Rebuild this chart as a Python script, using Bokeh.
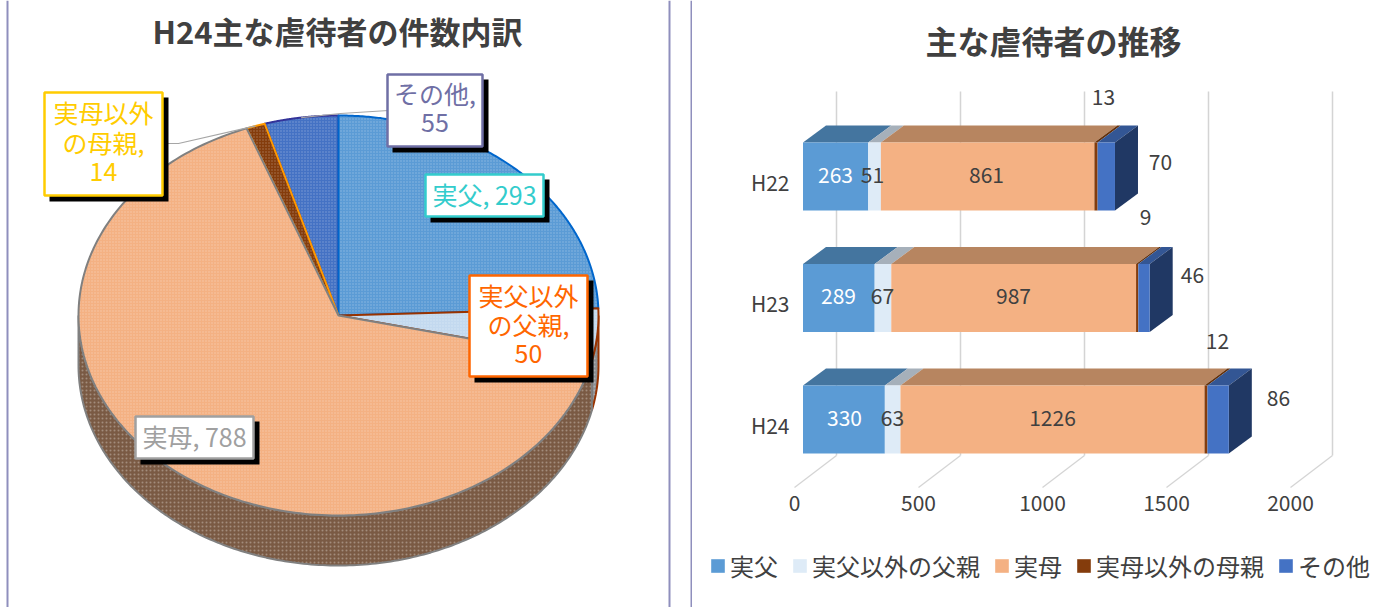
import numpy as np
from bokeh.plotting import figure
from bokeh.layouts import row
from bokeh.models import Range1d, FixedTicker, Legend, LegendItem
from bokeh.core.properties import value
from bokeh.embed import file_html
from bokeh.resources import INLINE

# ---- data ----
pie_names = ["実父", "実父以外の父親", "実母", "実母以外の母親", "その他"]
pie_values = [293, 50, 788, 14, 55]
pie_title = "H24主な虐待者の件数内訳"

years = ["H22", "H23", "H24"]
series_names = ["実父", "実父以外の父親", "実母", "実母以外の母親", "その他"]
jippu = [263, 289, 330]
jippu_other = [51, 67, 63]
jitsubo = [861, 987, 1226]
jitsubo_other = [13, 9, 12]
others = [70, 46, 86]
bar_title = "主な虐待者の推移"
x_ticks = [0, 500, 1000, 1500, 2000]

# ---- styles ----
FONT = "Noto Sans CJK JP"
TXT = "#404040"
PANEL = "#8f8fbd"
TEXT_DY = -2  # the font sits lower than the reference's

pie_fill = ["#5b9bd5", "#c3d9ef", "#f4b183", "#843c0c", "#4472c4"]
pie_line = ["#0066cc", "#993300", "#808080", "#ff9900", "#333399"]
wall_fill = {1: "#8b8f92", 2: "#7a5a44"}
draw_order = [4, 0, 3, 1, 2]

# ---- left figure: pie ----
L0, R0, T0, B0 = 0, 692, 0, 607
CX, CY, RX, RY, DEPTH = 338, 315, 260, 200, 50


def px(x):
    return (x - CX) / RX


def py(y):
    return (CY - y) / RY


left = figure(width=R0 - L0, height=B0 - T0, output_backend="svg", toolbar_location=None,
              x_range=Range1d(px(L0), px(R0)), y_range=Range1d(py(B0), py(T0)),
              min_border=0, outline_line_color=None)
left.axis.visible = False
left.grid.visible = False

for xp in (7, 669, 691):
    left.line([px(xp), px(xp)], [py(T0), py(B0)], line_color=PANEL, line_width=2)

totals = np.cumsum([0] + pie_values) / sum(pie_values) * 2 * np.pi
d = DEPTH / RY

# side walls
for i in [1, 2]:
    a = max(totals[i], np.pi / 2)
    b = min(totals[i + 1], 3 * np.pi / 2)
    t = np.linspace(a, b, 200)
    xs = np.concatenate([np.sin(t), np.sin(t[::-1])])
    ys = np.concatenate([np.cos(t), np.cos(t[::-1]) - d])
    left.patch(xs, ys, fill_color=wall_fill[i], line_color=pie_line[i], line_width=2,
               hatch_pattern="dot", hatch_color="white", hatch_alpha=0.3, hatch_scale=4, hatch_weight=1)

# top faces
for i in draw_order:
    t = np.linspace(totals[i], totals[i + 1], 200)
    xs = np.concatenate([[0], np.sin(t)])
    ys = np.concatenate([[0], np.cos(t)])
    left.patch(xs, ys, fill_color=pie_fill[i], line_color=pie_line[i], line_width=2,
               line_join="round",
               hatch_pattern="dot", hatch_color="white", hatch_alpha=0.3, hatch_scale=3, hatch_weight=1)


def mid(i):
    m = (totals[i] + totals[i + 1]) / 2
    return np.sin(m), np.cos(m)


# leader lines
mx, my = mid(3)
left.line([mx, px(178), px(165)], [my, py(143), py(143)], line_color="#a6a6a6", line_width=1.2)
mx, my = mid(4)
left.line([mx, px(340), px(388)], [my, py(113), py(110)], line_color="#a6a6a6", line_width=1.2)

# data label boxes: outer box, colour, text lines (text, y)
boxes = [
    (44, 162, 92, 195, "#ffcc00", [("実母以外", 113), ("の母親,", 143), (f"{pie_values[3]}", 173)]),
    (387, 482, 74, 146, "#6f6fa5", [("その他,", 94), (f"{pie_values[4]}", 124)]),
    (425, 543, 174, 216, "#33cccc", [(f"実父, {pie_values[0]}", 195)]),
    (469, 587, 275, 376, "#ff6600", [("実父以外", 296), ("の父親,", 325), (f"{pie_values[1]}", 355)]),
    (135, 253, 416, 458, "#a0a0a0", [(f"実母, {pie_values[2]}", 437)]),
]
for x0, x1, y0, y1, c, lines in boxes:
    left.quad(left=[px(x0 + 5)], right=[px(x1 + 6)], top=[py(y0 + 5)], bottom=[py(y1 + 6)],
              fill_color="black", line_color=None)
    left.quad(left=[px(x0)], right=[px(x1)], top=[py(y0)], bottom=[py(y1)],
              fill_color="white", line_color=c, line_width=2.5)
    for s, yy in lines:
        left.text([px((x0 + x1) / 2)], [py(yy + TEXT_DY)], text=[s], text_color=c, text_align="center",
                  text_baseline="middle", text_font=value(FONT), text_font_size="25px")

left.text([px(337)], [py(32 + TEXT_DY)], text=[pie_title], text_color=TXT, text_align="center",
          text_baseline="middle", text_font=value(FONT), text_font_style="bold", text_font_size="31px")

# ---- right figure: 3-D look stacked bars ----
F_LEFT, F_RIGHT, F_TOP, F_BOTTOM = R0, 1382, 0, 607
X0_PX, UNIT = 794, 0.248   # pixel of value 0 on the floor front, pixels per unit
ROW0_PX, ROW_PX = 424, 121.5  # pixel of H24 row label, row pitch


def qx(x):
    return (x - X0_PX) / UNIT


def qy(y):
    return (ROW0_PX - y) / ROW_PX


right = figure(width=F_RIGHT - F_LEFT, height=F_BOTTOM - F_TOP, output_backend="svg", toolbar_location=None,
               x_range=Range1d(qx(F_LEFT), qx(F_RIGHT)), y_range=Range1d(qy(F_BOTTOM), qy(F_TOP)),
               min_border=0, outline_line_color=None)
right.grid.visible = False
for ax in (right.xaxis[0], right.yaxis[0]):
    ax.axis_line_color = None
    ax.major_tick_line_color = None
    ax.minor_tick_line_color = None
    ax.major_label_text_color = TXT
    ax.major_label_text_font = FONT
    ax.major_label_text_font_size = "21px"
right.xaxis[0].ticker = FixedTicker(ticks=x_ticks)
right.xaxis[0].fixed_location = qy(486)
right.xaxis[0].major_label_standoff = 2
row_y = list(range(len(years)))[::-1]
right.yaxis[0].ticker = FixedTicker(ticks=row_y)
right.yaxis[0].major_label_overrides = {r: y for r, y in zip(row_y, years)}
right.yaxis[0].fixed_location = qx(797)
right.yaxis[0].major_label_standoff = 2

# floor and wall gridlines
DX, DY = 42, 32
wall_top, wall_bottom = 91, 455
for tk in x_ticks:
    back = tk + DX / UNIT
    right.line([back, back], [qy(wall_top), qy(wall_bottom)], line_color="#d4d4d4", line_width=1.5)
    right.line([back, tk], [qy(wall_bottom), qy(wall_bottom + DY)], line_color="#d4d4d4", line_width=1.2)

front_fill = ["#5b9bd5", "#deebf7", "#f4b183", "#843c0c", "#4472c4"]
top_fill = ["#44759f", "#a6b0ba", "#b78560", "#63300a", "#335694"]
SIDE_FILL = "#203864"
BAR_X_OFF = (802.5 - X0_PX) / UNIT
BAR_DX, BAR_DY = 23 / UNIT, 17 / ROW_PX
BAR_H = 68 / ROW_PX
BAR_SHIFT = -5 / ROW_PX  # front face centre above the row label

series = [jippu, jippu_other, jitsubo, jitsubo_other, others]
stack = np.cumsum(np.array([np.zeros(3, dtype=int)] + series), axis=0) + BAR_X_OFF
rows = np.array(row_y, dtype=float) - BAR_SHIFT
bar_top = rows + BAR_H / 2
bar_bottom = rows - BAR_H / 2

fronts = []
for j in range(len(years)):
    for i in range(len(series)):
        a, b = stack[i, j], stack[i + 1, j]
        right.patch([a, b, b + BAR_DX, a + BAR_DX],
                    [bar_top[j], bar_top[j], bar_top[j] + BAR_DY, bar_top[j] + BAR_DY],
                    fill_color=top_fill[i], line_color=None)
    e = stack[-1, j]
    right.patch([e, e + BAR_DX, e + BAR_DX, e],
                [bar_top[j], bar_top[j] + BAR_DY, bar_bottom[j] + BAR_DY, bar_bottom[j]],
                fill_color=SIDE_FILL, line_color=None)
for i in range(len(series)):
    fronts.append(right.quad(left=stack[i], right=stack[i + 1], top=bar_top, bottom=bar_bottom,
                             fill_color=front_fill[i], line_color=None))

# data labels, placed as in the reference
label_px = [
    [(835, 176), (838, 297), (844, 419)],
    [(872, 176), (882, 297), (892, 419)],
    [(986, 176), (1013, 297), (1052, 419)],
    [(1103, 98), (1145, 218), (1217, 342)],
    [(1160, 163), (1192, 276), (1278, 399)],
]
for i, vals in enumerate(series):
    for j, v in enumerate(vals):
        lx, ly = label_px[i][j]
        right.text([qx(lx)], [qy(ly + TEXT_DY)], text=[str(v)], text_color="white" if i == 0 else TXT,
                   text_align="center", text_baseline="middle",
                   text_font=value(FONT), text_font_size="21px")

right.text([qx(1053)], [qy(42 + TEXT_DY - 1)], text=[bar_title], text_color=TXT, text_align="center",
           text_baseline="middle", text_font=value(FONT), text_font_style="bold", text_font_size="32px")

legend = Legend(items=[LegendItem(label=n, renderers=[r]) for n, r in zip(series_names, fronts)],
                orientation="horizontal", location=(709 - F_LEFT, F_BOTTOM - 583),
                background_fill_alpha=0, border_line_color=None, padding=0, margin=0,
                spacing=13, label_standoff=4, glyph_width=17, glyph_height=17,
                label_text_font=FONT, label_text_font_size="24px", label_text_color=TXT)
right.add_layout(legend, "center")

page = row(left, right)
open("out.html", "w").write(file_html(page, INLINE))
